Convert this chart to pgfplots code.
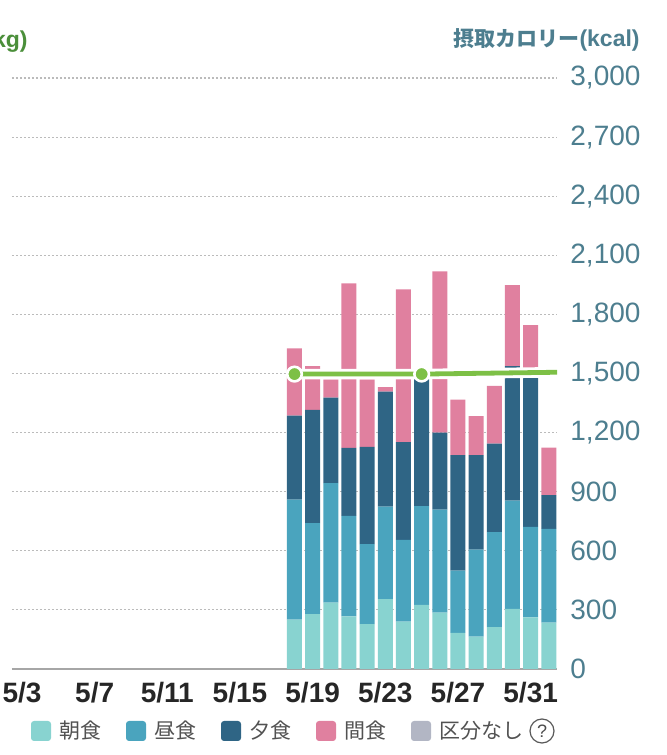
\documentclass[border=0pt]{standalone}
\usepackage{pgfplots}
\usepackage{pgfplotstable}
\pgfplotsset{compat=1.18}
\usepackage{fontspec}
\setmainfont{Liberation Sans}
\newfontfamily\cjk{Noto Sans CJK JP}
\definecolor{cBreak}{HTML}{88D3D0}
\definecolor{cLunch}{HTML}{4AA4BE}
\definecolor{cDinner}{HTML}{2F6585}
\definecolor{cSnack}{HTML}{E0809F}
\definecolor{cNone}{HTML}{B2B6C4}
\definecolor{cWeight}{HTML}{7DC046}
\definecolor{cKg}{HTML}{4B8F3A}
\definecolor{cAxis}{HTML}{4D7E8F}
\definecolor{cGrid}{HTML}{BBBBBB}

\pgfplotstableread{
day b l d s n
18 250 610 426 342 0
19 279 462 574 222 0
20 337 607 433 93 0
21 267 510 346 835 0
22 228 406 493 343 0
23 355 469 584 23 0
24 240 415 497 775 0
25 325 502 653 0 0
26 286 523 391 819 0
27 184 315 587 281 0
28 164 442 480 197 0
29 213 482 449 293 0
30 305 550 682 412 0
31 262 460 773 251 0
32 235 476 172 241 0
}\kcal

\pgfplotstableread{
day w
18 1497
25 1497
33 1507
}\weight

\begin{document}
\begin{tikzpicture}[x=1pt,y=1pt]
\path[use as bounding box] (0,0) rectangle (333.5,377.5);
\begin{axis}[
  at={(6pt,43pt)}, anchor=south west,
  scale only axis, width=272.5pt, height=295.5pt,
  xmin=2.45, xmax=32.45, ymin=0, ymax=3000,
  ybar stacked, bar width=0.826,
  every axis plot post/.append style={legend image code/.code={\fill[##1, draw=none, rounded corners=1.5pt] (0pt,-5pt) rectangle (10pt,5pt);}},
  axis y line*=right, axis x line*=bottom,
  y axis line style={draw=none},
  x axis line style={-, draw=black!35, line width=0.75pt},
  xtick={3,7,...,31},
  xticklabels={\textbf{5/3},\textbf{5/7},\textbf{5/11},\textbf{5/15},\textbf{5/19},\textbf{5/23},\textbf{5/27},\textbf{5/31}},
  ytick={0,300,...,3000},
  yticklabel={\pgfmathprintnumber[assume math mode=true,fixed,precision=0,1000 sep={,}]{\tick}},
  major tick length=0pt,
  ymajorgrids,
  grid style={cGrid, line width=0.6pt, dash pattern=on 0.8pt off 1.2pt},
  yticklabel style={anchor=west, inner sep=0pt, xshift=6.5pt, font=\fontsize{14}{16}\selectfont, text=cAxis},
  xticklabel style={anchor=north, inner sep=0pt, yshift=-6.5pt, font=\fontsize{14}{16}\selectfont, text=black!85},
  legend style={at={(0.0349,-0.1049)}, anchor=west, draw=none, fill=none,
    inner sep=0pt, outer sep=0pt, legend columns=-1,
    font=\cjk\fontsize{10.5}{12}\selectfont, text=black!68,
    nodes={inner sep=0pt},
    /tikz/every odd column/.append style={column sep=4pt},
    /tikz/every even column/.append style={column sep=12.5pt}},
]
\addplot[fill=cBreak, draw=none] table[x=day, y=b]{\kcal};
\addlegendentry{朝食}
\addplot[fill=cLunch, draw=none] table[x=day, y=l]{\kcal};
\addlegendentry{昼食}
\addplot[fill=cDinner, draw=none] table[x=day, y=d]{\kcal};
\addlegendentry{夕食}
\addplot[fill=cSnack, draw=none] table[x=day, y=s]{\kcal};
\addlegendentry{間食}
\addplot[fill=cNone, draw=none] table[x=day, y=n]{\kcal};
\addlegendentry{区分なし}
\end{axis}
\begin{axis}[
  at={(6pt,43pt)}, anchor=south west,
  scale only axis, width=272.5pt, height=295.5pt,
  xmin=2.45, xmax=32.45, ymin=0, ymax=3000,
  hide axis, clip=true,
]
\addplot[white, line width=5.3pt] table[x=day, y=w]{\weight};
\addplot[cWeight, line width=2.4pt, mark=*, mark indices={1,2},
  mark options={fill=cWeight, draw=white, line width=1.3pt}, mark size=3.65pt] table[x=day, y=w]{\weight};
\end{axis}
\node[anchor=east, inner sep=0pt, text=cAxis, font=\bfseries] at (320,357.5)
  {{\cjk\fontsize{10.5}{12}\selectfont 摂取カロリー}{\fontsize{11.5}{13}\selectfont(kcal)}};
\node[anchor=east, inner sep=0pt, text=cKg, font=\bfseries\fontsize{11.5}{13}\selectfont] at (14,357.5)
  {{\cjk 体重}(kg)};
\node[circle, draw=black!65, line width=0.6pt, minimum size=12pt, inner sep=0pt,
  text=black!70, font=\fontsize{9}{10}\selectfont] at (271,12) {?};
\end{tikzpicture}
\end{document}
